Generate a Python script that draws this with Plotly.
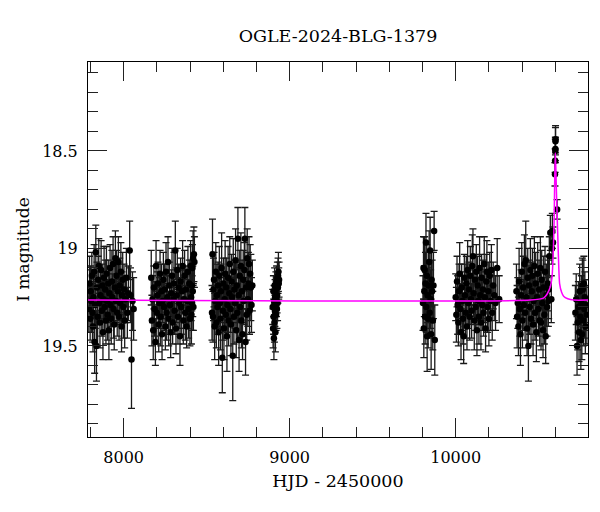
import plotly.graph_objects as go

# ---- photometry, season by season (HJD-2450000, I mag, error) ----
t1 = [7790, 7794, 7798, 7801, 7805, 7808, 7812, 7815, 7818, 7822,
      7825, 7829, 7832, 7836, 7839, 7843, 7846, 7850, 7853, 7857,
      7860, 7864, 7868, 7871, 7875, 7878, 7882, 7885, 7889, 7893,
      7896, 7900, 7903, 7907, 7911, 7914, 7918, 7921, 7925, 7929,
      7932, 7936, 7939, 7943, 7947, 7950, 7954, 7957, 7961, 7965,
      7968, 7972, 7976, 7979, 7983, 7987, 7990, 7994, 7998, 8002,
      8006, 8011, 8016, 8022, 8028, 8036, 8041, 8047, 8053, 8060]
m1 = [19.31, 19.18, 19.36, 19.22, 19.27, 19.14, 19.33, 19.40, 19.25, 19.12,
      19.48, 19.29, 19.02, 19.50, 19.20, 19.35, 19.16, 19.09, 19.28, 19.38,
      19.24, 19.11, 19.32, 19.19, 19.43, 19.26, 19.15, 19.30, 19.21, 19.37,
      19.13, 19.27, 19.34, 19.18, 19.42, 19.23, 19.10, 19.29, 19.36, 19.17,
      19.25, 19.08, 19.31, 19.39, 19.20, 19.05, 19.27, 19.14, 19.33, 19.22,
      19.07, 19.35, 19.19, 19.28, 19.12, 19.40, 19.24, 19.16, 19.30, 19.21,
      19.37, 19.26, 19.15, 19.33, 19.23, 19.01, 19.24, 19.57, 19.27, 19.31]
e1 = [0.12, 0.14, 0.11, 0.13, 0.16, 0.12, 0.15, 0.13, 0.11, 0.14,
      0.16, 0.12, 0.14, 0.18, 0.13, 0.15, 0.12, 0.14, 0.11, 0.13,
      0.12, 0.15, 0.13, 0.11, 0.14, 0.12, 0.16, 0.13, 0.15, 0.12,
      0.14, 0.11, 0.13, 0.12, 0.15, 0.14, 0.12, 0.11, 0.13, 0.16,
      0.12, 0.14, 0.15, 0.13, 0.12, 0.14, 0.11, 0.13, 0.12, 0.15,
      0.13, 0.12, 0.14, 0.11, 0.15, 0.13, 0.12, 0.14, 0.16, 0.13,
      0.14, 0.12, 0.15, 0.13, 0.14, 0.15, 0.14, 0.25, 0.15, 0.16]

t2 = [8166, 8170, 8174, 8178, 8182, 8186, 8191, 8195, 8199, 8203,
      8207, 8211, 8215, 8219, 8223, 8227, 8231, 8235, 8239, 8243,
      8247, 8251, 8255, 8259, 8263, 8267, 8271, 8275, 8279, 8283,
      8287, 8291, 8295, 8299, 8303, 8307, 8311, 8315, 8319, 8323,
      8327, 8331, 8335, 8339, 8343, 8347, 8351, 8355, 8359, 8363,
      8367, 8371, 8375, 8379, 8383, 8387, 8391, 8395, 8399, 8403,
      8406, 8408, 8410, 8412, 8414, 8416, 8418, 8420, 8423, 8426]
m2 = [19.15, 19.37, 19.26, 19.42, 19.20, 19.31, 19.48, 19.09, 19.33, 19.24,
      19.18, 19.39, 19.28, 19.13, 19.35, 19.22, 19.44, 19.27, 19.16, 19.30,
      19.21, 19.40, 19.12, 19.33, 19.25, 19.07, 19.36, 19.19, 19.29, 19.43,
      19.23, 19.14, 19.38, 19.26, 19.18, 19.32, 19.01, 19.41, 19.24, 19.11,
      19.35, 19.20, 19.28, 19.45, 19.17, 19.30, 19.22, 19.09, 19.37, 19.26,
      19.14, 19.33, 19.21, 19.40, 19.27, 19.12, 19.31, 19.18, 19.36, 19.09,
      19.25, 19.34, 19.19, 19.28, 19.10, 19.22, 19.05, 19.30, 19.03, 19.07]
e2 = [0.14, 0.13, 0.12, 0.15, 0.11, 0.14, 0.12, 0.13, 0.16, 0.12,
      0.11, 0.14, 0.13, 0.12, 0.15, 0.14, 0.13, 0.11, 0.14, 0.12,
      0.13, 0.12, 0.15, 0.14, 0.11, 0.13, 0.14, 0.12, 0.15, 0.13,
      0.12, 0.14, 0.11, 0.13, 0.16, 0.12, 0.15, 0.13, 0.14, 0.11,
      0.14, 0.12, 0.13, 0.15, 0.12, 0.14, 0.11, 0.13, 0.12, 0.15,
      0.13, 0.14, 0.12, 0.11, 0.14, 0.13, 0.15, 0.12, 0.14, 0.13,
      0.12, 0.15, 0.13, 0.14, 0.12, 0.13, 0.14, 0.12, 0.14, 0.13]

t3 = [8532, 8535, 8538, 8541, 8544, 8548, 8551, 8555, 8558, 8562,
      8565, 8569, 8572, 8576, 8579, 8583, 8586, 8590, 8594, 8597,
      8601, 8604, 8608, 8611, 8615, 8618, 8622, 8625, 8629, 8632,
      8636, 8639, 8643, 8646, 8650, 8653, 8657, 8660, 8664, 8667,
      8671, 8674, 8678, 8681, 8685, 8688, 8692, 8695, 8699, 8702,
      8706, 8709, 8713, 8716, 8720, 8723, 8727, 8730, 8734, 8737,
      8741, 8744, 8748, 8751, 8755, 8758, 8762, 8766, 8770, 8775]
m3 = [19.33, 19.03, 19.35, 19.21, 19.16, 19.40, 19.27, 19.12, 19.38, 19.24,
      19.30, 19.19, 19.43, 19.14, 19.28, 19.36, 19.22, 19.10, 19.56, 19.32,
      19.18, 19.41, 19.26, 19.13, 19.34, 19.20, 19.45, 19.29, 19.15, 19.37,
      19.23, 19.08, 19.31, 19.39, 19.17, 19.25, 19.55, 19.12, 19.35, 19.21,
      19.28, 19.06, 19.42, 19.19, 19.33, 18.95, 19.24, 19.47, 19.14, 19.30,
      19.09, 19.37, 19.22, 19.44, 19.16, 19.27, 19.11, 18.95, 19.48, 19.20,
      19.34, 19.05, 19.26, 19.18, 19.08, 19.32, 19.13, 19.20, 19.29, 19.19]
e3 = [0.14, 0.18, 0.13, 0.16, 0.14, 0.17, 0.12, 0.15, 0.13, 0.16,
      0.14, 0.12, 0.17, 0.15, 0.13, 0.16, 0.14, 0.18, 0.18, 0.15,
      0.13, 0.16, 0.14, 0.17, 0.12, 0.15, 0.18, 0.14, 0.16, 0.13,
      0.15, 0.14, 0.12, 0.16, 0.14, 0.13, 0.23, 0.17, 0.14, 0.15,
      0.13, 0.16, 0.14, 0.12, 0.15, 0.16, 0.14, 0.16, 0.13, 0.15,
      0.17, 0.14, 0.16, 0.13, 0.15, 0.12, 0.14, 0.16, 0.17, 0.14,
      0.13, 0.15, 0.14, 0.16, 0.14, 0.12, 0.15, 0.17, 0.14, 0.13]

t4 = [8898, 8900, 8902, 8903, 8905, 8906, 8908, 8909, 8911, 8912,
      8914, 8915, 8917, 8918, 8920, 8921, 8923, 8924, 8926, 8927,
      8929, 8930, 8932, 8934, 8936]
m4 = [19.30, 19.41, 19.22, 19.35, 19.46, 19.27, 19.38, 19.19, 19.32, 19.25,
      19.43, 19.29, 19.21, 19.34, 19.26, 19.17, 19.31, 19.24, 19.15, 19.28,
      19.20, 19.14, 19.12, 19.18, 19.16]
e4 = [0.09, 0.10, 0.08, 0.09, 0.11, 0.08, 0.10, 0.09, 0.08, 0.09,
      0.10, 0.08, 0.09, 0.08, 0.09, 0.08, 0.10, 0.09, 0.08, 0.09,
      0.08, 0.09, 0.10, 0.08, 0.09]

t5 = [9803, 9806, 9808, 9811, 9813, 9816, 9818, 9821, 9823, 9826,
      9828, 9831, 9834, 9837, 9840, 9843, 9846, 9849, 9852, 9855,
      9858, 9862, 9866, 9870, 9874]
m5 = [19.28, 19.10, 19.41, 19.22, 19.11, 19.35, 19.18, 18.97, 19.30, 19.14,
      19.45, 19.24, 19.36, 19.19, 19.07, 19.33, 19.01, 19.26, 19.44, 19.16,
      19.22, 19.37, 19.19, 18.91, 19.47]
e5 = [0.14, 0.16, 0.15, 0.13, 0.17, 0.14, 0.16, 0.15, 0.13, 0.16,
      0.18, 0.14, 0.15, 0.17, 0.16, 0.13, 0.17, 0.15, 0.18, 0.14,
      0.16, 0.15, 0.17, 0.10, 0.18]

t6 = [10000, 10004, 10008, 10012, 10016, 10020, 10024, 10028, 10032, 10036,
      10040, 10044, 10048, 10052, 10056, 10060, 10064, 10068, 10072, 10076,
      10080, 10084, 10088, 10092, 10096, 10100, 10104, 10108, 10112, 10116,
      10120, 10124, 10128, 10132, 10136, 10140, 10144, 10148, 10152, 10156,
      10160, 10164, 10168, 10172, 10176, 10180, 10184, 10188, 10192, 10196,
      10200, 10205, 10210, 10215, 10220, 10226, 10232, 10240, 10250, 10262]
m6 = [19.25, 19.34, 19.17, 19.29, 19.38, 19.22, 19.13, 19.31, 19.43, 19.20,
      19.27, 19.36, 19.45, 19.15, 19.24, 19.33, 19.18, 19.40, 19.11, 19.28,
      19.21, 19.35, 19.14, 19.26, 19.32, 19.09, 19.04, 19.23, 19.37, 19.16,
      19.30, 19.12, 19.42, 19.19, 19.27, 19.35, 19.10, 19.24, 19.38, 19.15,
      19.29, 19.21, 19.33, 19.08, 19.25, 19.41, 19.17, 19.12, 19.30, 19.22,
      19.36, 19.14, 19.27, 19.11, 19.33, 19.19, 19.24, 19.28, 19.10, 19.26]
e6 = [0.12, 0.14, 0.13, 0.15, 0.12, 0.14, 0.16, 0.13, 0.14, 0.12,
      0.15, 0.13, 0.14, 0.12, 0.16, 0.13, 0.14, 0.12, 0.15, 0.13,
      0.14, 0.12, 0.15, 0.13, 0.14, 0.16, 0.14, 0.12, 0.15, 0.13,
      0.12, 0.14, 0.13, 0.15, 0.12, 0.14, 0.16, 0.13, 0.14, 0.12,
      0.13, 0.15, 0.12, 0.14, 0.13, 0.12, 0.14, 0.16, 0.13, 0.15,
      0.14, 0.12, 0.15, 0.13, 0.14, 0.12, 0.13, 0.14, 0.15, 0.12]

t7 = [10366, 10370, 10374, 10378, 10382, 10386, 10390, 10394, 10398, 10402,
      10406, 10410, 10414, 10418, 10422, 10426, 10430, 10434, 10438, 10442,
      10446, 10450, 10454, 10458, 10462, 10466, 10470, 10474, 10478, 10482,
      10486, 10490, 10494, 10498, 10502, 10506, 10510, 10514, 10518, 10522,
      10526, 10530, 10534, 10538, 10542, 10546, 10550, 10554, 10558, 10560]
m7 = [19.22, 19.35, 19.28, 19.40, 19.17, 19.31, 19.44, 19.24, 19.12, 19.37,
      19.20, 19.29, 19.08, 19.33, 19.06, 19.25, 19.41, 19.15, 19.50, 19.19,
      19.30, 19.11, 19.36, 19.22, 19.14, 19.39, 19.27, 19.09, 19.33, 19.18,
      19.43, 19.25, 19.13, 19.31, 19.21, 19.37, 19.10, 19.38, 19.16, 19.28,
      19.42, 19.20, 19.34, 19.12, 19.45, 19.24, 19.30, 19.18, 19.27, 19.21]
e7 = [0.14, 0.16, 0.13, 0.15, 0.17, 0.14, 0.16, 0.13, 0.15, 0.14,
      0.16, 0.13, 0.15, 0.14, 0.20, 0.16, 0.14, 0.15, 0.18, 0.13,
      0.14, 0.16, 0.13, 0.15, 0.14, 0.16, 0.13, 0.15, 0.14, 0.16,
      0.15, 0.13, 0.16, 0.14, 0.15, 0.13, 0.16, 0.14, 0.15, 0.13,
      0.14, 0.16, 0.15, 0.13, 0.14, 0.16, 0.15, 0.14, 0.13, 0.15]

t_ev = [10564, 10570, 10576, 10580, 10582, 10586, 10598, 10599, 10600,
        10600.5, 10601, 10601.5, 10611]
m_ev = [19.04, 18.92, 19.26, 19.00, 18.91, 18.97, 18.62, 18.55, 18.50,
        18.49, 18.45, 18.44, 18.80]
e_ev = [0.10, 0.09, 0.12, 0.08, 0.09, 0.08, 0.06, 0.06, 0.06,
        0.06, 0.07, 0.07, 0.05]

t8 = [10721, 10726, 10731, 10735, 10739, 10743, 10747, 10751, 10754, 10757,
      10760, 10763, 10766, 10769, 10772, 10775, 10778, 10781, 10785, 10790]
m8 = [19.33, 19.26, 19.50, 19.38, 19.30, 19.43, 19.22, 19.35, 19.47, 19.28,
      19.44, 19.19, 19.21, 19.37, 19.18, 19.31, 19.25, 19.40, 19.29, 19.34]
e8 = [0.14, 0.13, 0.15, 0.14, 0.13, 0.15, 0.14, 0.13, 0.15, 0.14,
      0.13, 0.14, 0.15, 0.13, 0.14, 0.15, 0.13, 0.14, 0.13, 0.15]

# ---- model light curve ----
model_t = [7783, 10450, 10529, 10550, 10570, 10580, 10586, 10591, 10594,
           10597, 10600, 10603, 10606, 10610, 10618, 10626, 10638, 10650,
           10675, 10711, 10797]
model_m = [19.265, 19.265, 19.255, 19.235, 19.197, 19.15, 19.06, 18.93, 18.80,
           18.62, 18.51, 18.58, 18.68, 18.80, 19.02, 19.18, 19.225, 19.245,
           19.258, 19.265, 19.265]

x_ticks = [8000, 9000, 10000]
x_labels = ["8000", "9000", "10000"]
y_ticks = [18.5, 19.0, 19.5]
y_labels = ["18.5", "19", "19.5"]

t_all = t1 + t2 + t3 + t4 + t5 + t6 + t7 + t_ev + t8
m_all = m1 + m2 + m3 + m4 + m5 + m6 + m7 + m_ev + m8
e_all = e1 + e2 + e3 + e4 + e5 + e6 + e7 + e_ev + e8
assert len(t_all) == len(m_all) == len(e_all)

FONT = "DejaVu Serif"

fig = go.Figure()
fig.add_trace(go.Scatter(
    x=t_all, y=m_all, mode="markers",
    marker=dict(color="black", size=6.5),
    error_y=dict(type="data", array=e_all, visible=True,
                 color="#1a1a1a", thickness=1.3, width=3.5),
    showlegend=False,
))
fig.add_trace(go.Scatter(
    x=model_t, y=model_m, mode="lines",
    line=dict(color="#ff00ff", width=1.5, shape="spline", smoothing=0.6),
    showlegend=False,
))

axis_common = dict(
    showgrid=False, zeroline=False,
    showline=True, linecolor="black", linewidth=1, mirror="ticks",
    ticks="inside", ticklen=19, tickwidth=1.2, tickcolor="#222",
    tickfont=dict(family=FONT, size=16, color="black"),
)

fig.update_xaxes(
    range=[7785, 10797], tickmode="array", tickvals=x_ticks, ticktext=x_labels,
    minor=dict(ticks="inside", dtick=200, tick0=0, ticklen=10,
               tickwidth=1.2, tickcolor="#222", showgrid=False),
    title=dict(text="HJD - 2450000", font=dict(family=FONT, size=17.5, color="black"),
               standoff=8),
    ticklabelstandoff=6,
    **axis_common,
)
fig.update_yaxes(
    range=[19.967, 18.044], tickmode="array", tickvals=y_ticks, ticktext=y_labels,
    minor=dict(ticks="inside", dtick=0.1, tick0=18.0, ticklen=10,
               tickwidth=1.2, tickcolor="#222", showgrid=False),
    title=dict(text="I magnitude", font=dict(family=FONT, size=17, color="black"),
               standoff=8),
    ticklabelstandoff=6,
    **axis_common,
)

fig.update_layout(
    width=600, height=512,
    margin=dict(l=80, r=20, t=54, b=83),
    paper_bgcolor="white", plot_bgcolor="white",
    title=dict(text="OGLE-2024-BLG-1379", x=0.5, xref="paper",
               y=1 - 28 / 512, yref="container", yanchor="middle",
               font=dict(family=FONT, size=17.5, color="black")),
)

fig.write_html("out.html")
